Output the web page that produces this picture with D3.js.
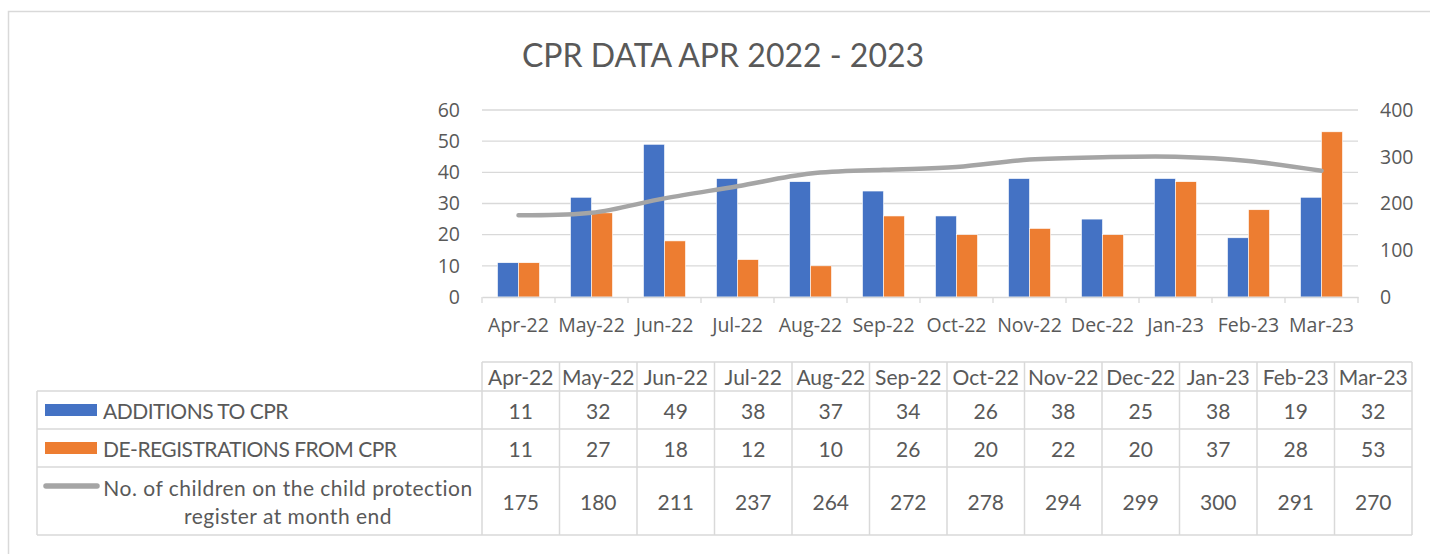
<!DOCTYPE html>
<html><head><meta charset="utf-8">
<script src="https://cdn.jsdelivr.net/npm/d3@7/dist/d3.min.js"></script>
<style>
html,body{margin:0;padding:0;background:#fff;}
svg{display:block;}
</style></head>
<body><svg id="c" width="1430" height="554"></svg>
<script>
const months = ["Apr-22","May-22","Jun-22","Jul-22","Aug-22","Sep-22","Oct-22","Nov-22","Dec-22","Jan-23","Feb-23","Mar-23"];
const additions = [11,32,49,38,37,34,26,38,25,38,19,32];
const deregistrations = [11,27,18,12,10,26,20,22,20,37,28,53];
const registerCount = [175,180,211,237,264,272,278,294,299,300,291,270];
const leftTicks = [0,10,20,30,40,50,60];
const rightTicks = [0,100,200,300,400];
const seriesNames = ["ADDITIONS TO CPR","DE-REGISTRATIONS FROM CPR","No. of children on the child protection register at month end"];
const title = "CPR DATA APR 2022 - 2023";

const colors = {add:"#4472C4", dereg:"#ED7D31", line:"#A5A5A5", text:"#595959", grid:"#D9D9D9"};
const svg = d3.select("#c");

// outer chart border
svg.append("path").attr("d","M8.5,554 L8.5,11.5 L1430,11.5").attr("fill","none").attr("stroke","#D9D9D9").attr("stroke-width",1.5);

// title
svg.append("text").attr("x",723).attr("y",67).attr("text-anchor","middle")
  .attr("font-family","Lato").attr("font-size",32).attr("fill",colors.text).text(title);

const x = d3.scaleBand().domain(months).range([482,1358]).paddingInner(0).paddingOuter(0);
const xs = d3.scaleBand().domain([0,1]).range([0,x.bandwidth()]).paddingInner(0).paddingOuter(0.738);
const yL = d3.scaleLinear().domain([0,60]).range([297,110]);
const yR = d3.scaleLinear().domain([0,400]).range([297,110]);

// gridlines
svg.append("g").selectAll("line").data(leftTicks.slice(1)).join("line")
  .attr("x1",482).attr("x2",1358).attr("y1",d=>yL(d)).attr("y2",d=>yL(d))
  .attr("stroke",colors.grid).attr("stroke-width",1.3);

// bars
const gB = svg.append("g");
gB.selectAll("rect.a").data(additions).join("rect").attr("class","a")
  .attr("x",(d,i)=>x(months[i])+xs(0)).attr("width",xs.bandwidth())
  .attr("y",d=>yL(d)).attr("height",d=>yL(0)-yL(d)).attr("fill",colors.add)
  .attr("stroke","#fff").attr("stroke-width",0.6);
gB.selectAll("rect.d").data(deregistrations).join("rect").attr("class","d")
  .attr("x",(d,i)=>x(months[i])+xs(1)).attr("width",xs.bandwidth())
  .attr("y",d=>yL(d)).attr("height",d=>yL(0)-yL(d)).attr("fill",colors.dereg)
  .attr("stroke","#fff").attr("stroke-width",0.6);

// x axis
const xAxis = d3.axisBottom(x).tickSize(0).tickPadding(21);
const gx = svg.append("g").attr("transform","translate(0,297)").call(xAxis);
gx.select(".domain").attr("stroke",colors.grid).attr("stroke-width",1.3);
gx.selectAll("text").attr("font-family","Open Sans").attr("font-size",19.5).attr("fill",colors.text);
// category boundary ticks
svg.append("g").selectAll("line").data(months.concat(["end"])).join("line")
  .attr("x1",(d,i)=>i<months.length?x(d):x.range()[1]).attr("x2",(d,i)=>i<months.length?x(d):x.range()[1])
  .attr("y1",297).attr("y2",303).attr("stroke",colors.grid).attr("stroke-width",1.3);

// left axis
const gl = svg.append("g").attr("transform","translate(482,0)")
  .call(d3.axisLeft(yL).tickValues(leftTicks).tickSize(0).tickPadding(22));
gl.select(".domain").remove();
gl.selectAll("text").attr("font-family","Open Sans").attr("font-size",19.5).attr("fill",colors.text);

// right axis
const gr = svg.append("g").attr("transform","translate(1358,0)")
  .call(d3.axisRight(yR).tickValues(rightTicks).tickSize(0).tickPadding(22));
gr.select(".domain").remove();
gr.selectAll("text").attr("font-family","Open Sans").attr("font-size",19.5).attr("fill",colors.text);

// line
const line = d3.line().x((d,i)=>x(months[i])+x.bandwidth()/2).y(d=>yR(d)).curve(d3.curveCatmullRom.alpha(0.5));
svg.append("path").datum(registerCount).attr("d",line).attr("fill","none")
  .attr("stroke",colors.line).attr("stroke-width",4.5).attr("stroke-linecap","round").attr("stroke-linejoin","round");

// data table
const tx = d3.scaleBand().domain(months).range([482,1412]);
const rowY = [362,391,429,467,535];
const tg = svg.append("g");
const bc = "#D9D9D9", bw = 1.5;
tg.append("line").attr("x1",482).attr("x2",1412).attr("y1",rowY[0]).attr("y2",rowY[0]).attr("stroke",bc).attr("stroke-width",bw);
rowY.slice(1).forEach(yv=>{
  tg.append("line").attr("x1",37).attr("x2",1412).attr("y1",yv).attr("y2",yv).attr("stroke",bc).attr("stroke-width",bw);
});
tg.append("line").attr("x1",37).attr("x2",37).attr("y1",rowY[1]).attr("y2",rowY[4]).attr("stroke",bc).attr("stroke-width",bw);
months.forEach(m=>{
  tg.append("line").attr("x1",tx(m)).attr("x2",tx(m)).attr("y1",rowY[0]).attr("y2",rowY[4]).attr("stroke",bc).attr("stroke-width",bw);
});
tg.append("line").attr("x1",1412).attr("x2",1412).attr("y1",rowY[0]).attr("y2",rowY[4]).attr("stroke",bc).attr("stroke-width",bw);

function ttext(xv,yv,s,anchor,ls){
  return tg.append("text").attr("x",xv).attr("y",yv).attr("text-anchor",anchor||"middle")
    .attr("dominant-baseline","central").attr("font-family","Lato").attr("font-size",21)
    .attr("letter-spacing",ls||0)
    .attr("fill",colors.text).text(s);
}
months.forEach((m,i)=>{
  const cx = tx(m)+tx.bandwidth()/2;
  ttext(cx,(rowY[0]+rowY[1])/2,m);
  ttext(cx,(rowY[1]+rowY[2])/2,additions[i]);
  ttext(cx,(rowY[2]+rowY[3])/2,deregistrations[i]);
  ttext(cx,(rowY[3]+rowY[4])/2,registerCount[i]);
});
tg.append("rect").attr("x",45).attr("y",404).attr("width",52).attr("height",12).attr("fill",colors.add);
ttext(103,(rowY[1]+rowY[2])/2,seriesNames[0],"start",-0.5);
tg.append("rect").attr("x",45).attr("y",442).attr("width",52).attr("height",12).attr("fill",colors.dereg);
ttext(103,(rowY[2]+rowY[3])/2,seriesNames[1],"start",-0.5);
tg.append("line").attr("x1",46).attr("x2",97).attr("y1",486).attr("y2",486).attr("stroke",colors.line).attr("stroke-width",5.5).attr("stroke-linecap","round");
ttext(288,487,"No. of children on the child protection","middle",0.5);
ttext(288,515,"register at month end","middle",0.5);
</script></body></html>
